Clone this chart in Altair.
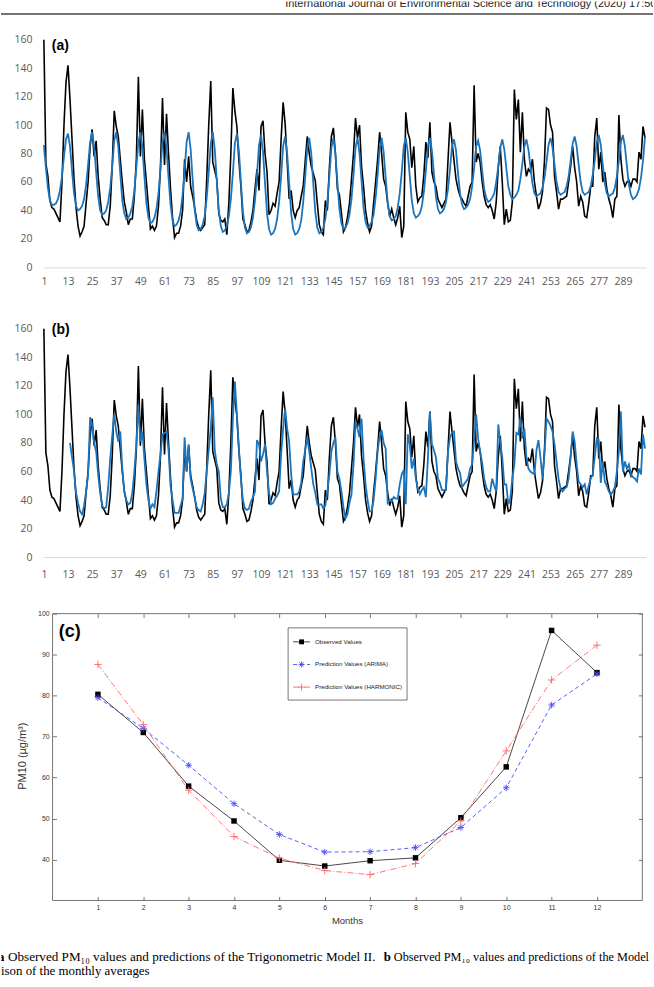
import altair as alt
import pandas as pd

# ---------------- panels (a) and (b): monthly series, months 1..300 ----------------
months = list(range(1, 301))
tick_months = list(range(1, 290, 12))
y_ticks_ab = list(range(0, 161, 20))

observed = [
    160, 73, 64, 47, 42, 41, 38, 35, 32, 60, 100, 130,
    142, 118, 90, 62, 42, 29, 22, 25, 29, 45, 60, 85,
    97, 78, 89, 64, 48, 35, 33, 30, 30, 43, 71, 110,
    99, 92, 76, 60, 46, 39, 30, 34, 34, 50, 76, 134,
    78, 111, 76, 60, 43, 27, 29, 26, 29, 43, 71, 119,
    72, 108, 80, 55, 35, 21, 24, 24, 29, 40, 76, 60,
    78, 57, 50, 42, 33, 28, 26, 28, 30, 62, 100, 131,
    74, 68, 62, 38, 33, 32, 34, 23, 45, 80, 126, 110,
    99, 75, 57, 34, 30, 25, 26, 32, 40, 55, 69, 54,
    99, 103, 80, 67, 37, 40, 45, 43, 52, 60, 90, 116,
    101, 75, 48, 54, 40, 35, 40, 42, 50, 57, 75, 92,
    80, 71, 66, 61, 45, 30, 25, 23, 47, 40, 70, 92,
    98, 80, 55, 51, 38, 25, 28, 35, 45, 62, 80, 105,
    91, 100, 71, 57, 40, 31, 25, 29, 45, 60, 76, 95,
    80, 62, 57, 45, 36, 41, 35, 30, 35, 43, 21, 29,
    109, 95, 90, 70, 85, 57, 46, 49, 50, 65, 88, 77,
    102, 67, 60, 57, 48, 45, 42, 45, 48, 75, 102, 88,
    75, 62, 55, 50, 48, 45, 43, 50, 57, 60, 128, 74,
    80, 74, 60, 50, 44, 42, 44, 40, 34, 46, 70, 85,
    60, 30, 41, 32, 33, 46, 125, 104, 118, 81, 109, 76,
    64, 69, 67, 76, 60, 50, 41, 45, 53, 75, 112, 111,
    100, 95, 64, 53, 41, 48, 48, 49, 50, 60, 71, 85,
    70, 60, 43, 50, 46, 36, 35, 45, 57, 57, 92, 105,
    69, 81, 60, 67, 55, 48, 43, 35, 48, 50, 107, 76,
    62, 57, 60, 61, 57, 62, 62, 60, 81, 76, 99, 91,
]

harmonic = [
    86, 70, 56, 47, 44, 44, 45, 48, 54, 64, 78, 90,
    94, 85, 68, 52, 43, 40, 41, 43, 48, 58, 72, 88,
    95, 85, 67, 50, 40, 37, 38, 40, 46, 56, 71, 89,
    95, 85, 66, 47, 38, 34, 35, 38, 43, 54, 70, 88,
    95, 84, 64, 45, 35, 31, 32, 35, 41, 52, 69, 88,
    95, 84, 63, 44, 33, 29, 30, 33, 39, 51, 68, 88,
    95, 83, 62, 41, 30, 26, 27, 30, 36, 49, 67, 87,
    95, 83, 61, 40, 29, 25, 26, 29, 36, 48, 66, 87,
    94, 82, 60, 39, 28, 24, 25, 28, 35, 47, 65, 86,
    93, 81, 59, 38, 27, 23, 24, 27, 34, 46, 64, 85,
    92, 80, 59, 38, 27, 23, 24, 27, 33, 46, 64, 84,
    91, 80, 59, 39, 28, 24, 25, 28, 34, 46, 64, 84,
    91, 80, 60, 41, 31, 27, 28, 31, 37, 48, 65, 84,
    91, 80, 61, 42, 32, 28, 29, 32, 37, 49, 65, 84,
    91, 81, 63, 46, 36, 33, 34, 36, 42, 52, 67, 85,
    91, 81, 64, 47, 38, 35, 36, 38, 43, 53, 68, 85,
    91, 82, 66, 50, 41, 38, 39, 41, 46, 55, 69, 85,
    90, 82, 66, 52, 44, 41, 42, 44, 48, 57, 70, 85,
    89, 82, 68, 55, 49, 46, 47, 49, 52, 60, 71, 84,
    90, 83, 70, 57, 51, 48, 49, 51, 54, 62, 73, 85,
    90, 83, 71, 59, 52, 50, 51, 52, 56, 63, 74, 86,
    91, 84, 72, 60, 53, 51, 52, 53, 57, 64, 75, 87,
    92, 85, 72, 60, 53, 51, 52, 53, 57, 65, 75, 88,
    93, 86, 72, 59, 52, 50, 51, 52, 56, 64, 75, 88,
    93, 85, 71, 58, 51, 48, 49, 51, 55, 63, 75, 92,
]

arima = [None] * 13 + [
    80, 70, 60, 45, 38, 32, 30, 36, 46, 58, 98,
    93, 80, 74, 58, 45, 36, 34, 35, 49, 69, 85, 100,
    88, 81, 88, 62, 46, 40, 37, 38, 45, 60, 79, 107,
    81, 88, 69, 51, 40, 34, 37, 35, 46, 60, 72, 86,
    87, 88, 75, 50, 40, 31, 31, 31, 36, 41, 84, 60,
    79, 55, 48, 42, 35, 33, 32, 37, 45, 60, 75, 90,
    112, 75, 65, 60, 41, 35, 35, 37, 45, 60, 97, 123,
    100, 76, 55, 40, 34, 33, 34, 39, 42, 46, 82, 79,
    67, 72, 79, 60, 45, 37, 38, 41, 43, 46, 72, 90,
    104, 90, 81, 58, 44, 44, 44, 46, 52, 67, 75, 84,
    74, 62, 51, 45, 37, 37, 37, 34, 36, 46, 58, 74,
    80, 84, 60, 55, 46, 35, 27, 30, 38, 44, 65, 95,
    90, 84, 97, 69, 51, 40, 32, 32, 40, 55, 74, 85,
    89, 80, 76, 38, 40, 39, 42, 41, 41, 51, 58, 61,
    37, 86, 79, 62, 69, 55, 48, 44, 47, 49, 42, 69,
    102, 79, 75, 70, 55, 52, 47, 47, 47, 74, 84, 87,
    88, 67, 62, 59, 49, 51, 53, 55, 62, 65, 82, 100,
    83, 74, 66, 55, 49, 46, 46, 55, 50, 46, 93, 80,
    70, 51, 51, 37, 41, 55, 65, 87, 86, 98, 83, 90,
    70, 62, 60, 59, 58, 75, 82, 70, 55, 72, 97, 95,
    92, 88, 79, 67, 55, 48, 46, 48, 49, 55, 70, 88,
    81, 65, 53, 51, 49, 51, 44, 50, 55, 58, 70, 83,
    82, 52, 67, 53, 50, 46, 44, 46, 49, 60, 74, 102,
    60, 67, 62, 65, 58, 56, 55, 53, 62, 58, 86, 76,
]

# ---------------- panel (c): monthly averages ----------------
month_c = list(range(1, 13))
obs_c = [80.3, 71.0, 57.9, 49.4, 39.8, 38.4, 39.7, 40.4, 50.2, 62.6, 95.9, 85.6]
arima_c = [79.5, 72.0, 63.0, 53.6, 46.1, 41.8, 41.9, 42.9, 47.8, 57.5, 77.7, 85.3]
harm_c = [87.6, 72.9, 56.9, 45.6, 40.3, 37.3, 36.3, 39.0, 49.4, 66.5, 83.8, 92.3]
x_lim_c = [0, 13]
y_lim_c = [30, 100]
y_ticks_c = list(range(40, 101, 10))
legend_labels = ["Observed Values", "Prediction Values (ARIMA)", "Prediction Values (HARMONIC)"]

header_text = "International Journal of Environmental Science and Technology (2020) 17:5079\u20135086"
cap1_a = "a"
cap1_rest1 = "Observed PM\u2081\u2080 values and predictions of the Trigonometric Model II."
cap1_b = "b"
cap1_rest2 = "Observed PM\u2081\u2080 values and predictions of the Model"
cap2 = "ison of the monthly averages"

BLUE = "#1c75bc"
AX_FONT = "Open Sans"
W = 654
one = pd.DataFrame({"k": [0]})


def txt(text, x, y, size, font="Liberation Sans", weight="normal", align="left",
        color="#000000", angle=0, clip=False):
    return alt.Chart(one).mark_text(
        text=text, font=font, fontSize=size, fontWeight=weight, align=align,
        baseline="middle", color=color, angle=angle, clip=clip
    ).encode(x=alt.value(x), y=alt.value(y))


def ts_panel(pred, tag, tag_y, height, y_top, y_bottom, lab_pad, extra=None):
    df = pd.DataFrame({"month": months, "observed": observed, "pred": pred})
    xs = alt.Scale(domain=[0.5, 300.5], range=[42, 647], nice=False, zero=False)
    ys = alt.Scale(domain=[0, 160], range=[y_bottom, y_top], nice=False, zero=False)
    xaxis = alt.Axis(values=tick_months, title=None, grid=False, ticks=False, tickSize=0,
                     domainColor="#d9d9d9", domainWidth=1, labelFont=AX_FONT,
                     labelFontSize=10.5, labelColor="#595959", labelPadding=lab_pad,
                     offset=y_bottom - height, labelFlush=False, labelOverlap=False)
    yaxis = alt.Axis(values=y_ticks_ab, title=None, grid=False, ticks=False, tickSize=0,
                     domain=False, labelFont=AX_FONT, labelFontSize=10.5,
                     labelColor="#595959", labelPadding=0, offset=-31,
                     labelFlush=False, labelOverlap=False)
    obs = alt.Chart(df).mark_line(color="#000000", strokeWidth=1.6).encode(
        x=alt.X("month:Q", scale=xs, axis=xaxis),
        y=alt.Y("observed:Q", scale=ys, axis=yaxis))
    pr = alt.Chart(df).mark_line(color=BLUE, strokeWidth=1.8).encode(
        x=alt.X("month:Q", scale=xs, axis=xaxis),
        y=alt.Y("pred:Q", scale=ys, axis=yaxis))
    lab = txt(tag, 51, tag_y, 14, weight="bold")
    layers = [obs, pr, lab] + (extra or [])
    return alt.layer(*layers).properties(width=W, height=height)


header = [
    txt(header_text, 285, 3, 11, color="#222222", clip=True),
    alt.Chart(one).mark_rule(color="#444444", strokeWidth=1.5).encode(
        x=alt.value(0), x2=alt.value(W), y=alt.value(12.5)),
]

panel_a = ts_panel(harmonic, "(a)", 45, 300, 38.3, 266.7, 9, extra=header)
panel_b = ts_panel(arima, "(b)", 30, 290, 28.3, 257.3, 12)

# ---------------- panel (c) ----------------
HC = 397
fx0, fx1 = 51.7, 643.3
fy_top, fy_bot = 24, 311.7
xs_c = alt.Scale(domain=x_lim_c, range=[fx0, fx1], nice=False, zero=False)
ys_c = alt.Scale(domain=y_lim_c, range=[fy_bot, fy_top], nice=False, zero=False)

common_ax = dict(grid=False, domain=False, title=None, tickSize=4, tickColor="#555555",
                 tickWidth=0.8, labelFont="Liberation Sans", labelFontSize=7,
                 labelColor="#333333", labelFlush=False, labelOverlap=False)
ax_bottom = alt.Axis(orient="bottom", values=month_c, offset=(fy_bot - HC) - 4,
                     labelPadding=3.5, **common_ax)
ax_top = alt.Axis(orient="top", values=month_c, offset=-(fy_top + 4), labels=False, **common_ax)
ax_left = alt.Axis(orient="left", values=y_ticks_c, offset=-(fx0 + 4), labelPadding=3.4, **common_ax)
ax_right = alt.Axis(orient="right", values=y_ticks_c, offset=(fx1 - 4) - W, labels=False, **common_ax)

df_frame = pd.DataFrame({"x0": [x_lim_c[0]], "x1": [x_lim_c[1]],
                         "y0": [y_lim_c[0]], "y1": [y_lim_c[1]]})
frame = alt.Chart(df_frame).mark_rect(filled=False, color="#666666", strokeWidth=0.9).encode(
    x=alt.X("x0:Q", scale=xs_c, axis=ax_bottom), x2="x1:Q",
    y=alt.Y("y0:Q", scale=ys_c, axis=ax_left), y2="y1:Q")

df_obs_c = pd.DataFrame({"month": month_c, "value": obs_c})
df_ar_c = pd.DataFrame({"month": month_c, "value": arima_c})
df_hm_c = pd.DataFrame({"month": month_c, "value": harm_c})

ASTER = "M-1,0L1,0M0,-1L0,1M-0.7,-0.7L0.7,0.7M-0.7,0.7L0.7,-0.7"
PLUS = "M-1,0L1,0M0,-1L0,1"
C_OBS, C_AR, C_HM = "#333333", "#4a4aff", "#ff6363"


def enc(axx=None, axy=None):
    return dict(x=alt.X("month:Q", scale=xs_c, axis=axx),
                y=alt.Y("value:Q", scale=ys_c, axis=axy))


obs_line_c = alt.Chart(df_obs_c).mark_line(color=C_OBS, strokeWidth=0.9).encode(**enc(ax_top, ax_right))
ar_line_c = alt.Chart(df_ar_c).mark_line(color=C_AR, strokeWidth=0.9, strokeDash=[4, 3]).encode(**enc())
hm_line_c = alt.Chart(df_hm_c).mark_line(color=C_HM, strokeWidth=0.9, strokeDash=[6, 2, 1, 2]).encode(**enc())
obs_pt_c = alt.Chart(df_obs_c).mark_point(shape="square", filled=True, size=30, color="#000000", opacity=1).encode(**enc())
ar_pt_c = alt.Chart(df_ar_c).mark_point(shape=ASTER, filled=False, size=42, color=C_AR, strokeWidth=0.9, opacity=1).encode(**enc())
hm_pt_c = alt.Chart(df_hm_c).mark_point(shape=PLUS, filled=False, size=56, color=C_HM, strokeWidth=0.9, opacity=1).encode(**enc())

# legend box
leg = [alt.Chart(one).mark_rect(fill="white", stroke="#555555", strokeWidth=0.8).encode(
    x=alt.value(288), x2=alt.value(407.3), y=alt.value(38.3), y2=alt.value(110.7))]
leg_rows = [
    (52.3, C_OBS, None, "square", 24, True, "#000000"),
    (75.0, C_AR, [4, 3], ASTER, 36, False, C_AR),
    (97.7, C_HM, [6, 2, 1, 2], PLUS, 48, False, C_HM),
]
for (ly, lc, dash, shp, sz, fil, pc), label in zip(leg_rows, legend_labels):
    rule_kw = dict(color=lc, strokeWidth=0.9)
    if dash:
        rule_kw["strokeDash"] = dash
    leg.append(alt.Chart(one).mark_rule(**rule_kw).encode(
        x=alt.value(293), x2=alt.value(310), y=alt.value(ly)))
    leg.append(alt.Chart(one).mark_point(shape=shp, filled=fil, size=sz, color=pc,
                                         strokeWidth=0.9, opacity=1).encode(
        x=alt.value(301.5), y=alt.value(ly)))
    leg.append(txt(label, 315, ly, 6.2, color="#222222"))

texts_c = [
    txt("(c)", 58, 42, 18, weight="bold"),
    txt("Months", 347.5, 332, 9.5, align="center", color="#333333"),
    txt("PM10 (\u00b5g/m\u00b3)", 22, 167, 11, align="center", color="#333333", angle=270),
    txt(cap1_a, -3, 368, 12.9, font="Liberation Serif", weight="bold", clip=True),
    txt(cap1_rest1, 7, 368, 13.2, font="Liberation Serif"),
    txt(cap1_b, 384, 368, 12.9, font="Liberation Serif", weight="bold"),
    txt(cap1_rest2, 394, 368, 12.3, font="Liberation Serif", clip=True),
    txt(cap2, 0, 382, 12.9, font="Liberation Serif"),
]

panel_c = alt.layer(
    frame, obs_line_c, ar_line_c, hm_line_c, obs_pt_c, ar_pt_c, hm_pt_c, *leg, *texts_c
).resolve_axis(x="independent", y="independent").properties(width=W, height=HC)

chart = alt.vconcat(panel_a, panel_b, panel_c, spacing=0, bounds="flush").properties(
    padding=0, background="white"
).configure_view(stroke=None)

chart.save("out.html", embed_options={"renderer": "svg", "actions": False})
